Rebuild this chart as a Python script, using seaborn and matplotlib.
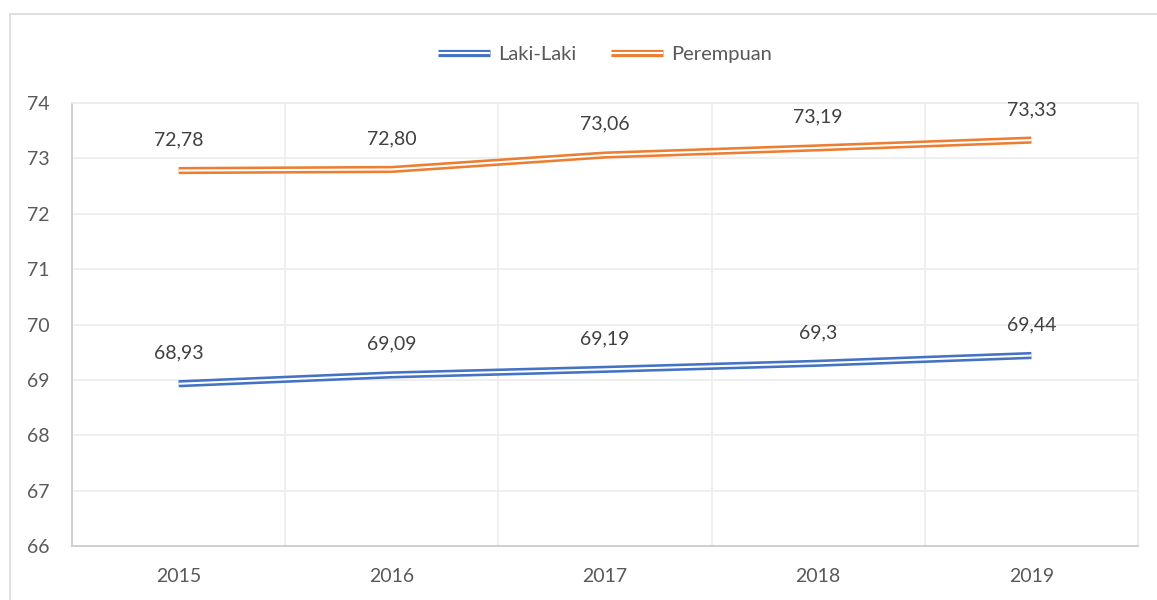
import numpy as np
import pandas as pd
import matplotlib
matplotlib.use("Agg")
import matplotlib.pyplot as plt
import matplotlib.patheffects as pe
import seaborn as sns

# data
years = ["2015", "2016", "2017", "2018", "2019"]
laki = [68.93, 69.09, 69.19, 69.30, 69.44]
perempuan = [72.78, 72.80, 73.06, 73.19, 73.33]
laki_labels = ["68,93", "69,09", "69,19", "69,3", "69,44"]
perempuan_labels = ["72,78", "72,80", "73,06", "73,19", "73,33"]
series_names = ["Laki-Laki", "Perempuan"]
colors = ["#4472c4", "#ed7d31"]

sns.set_theme(style="white")
plt.rcParams['font.family'] = ['Lato', 'DejaVu Sans']
TXT = "#595959"

df = pd.DataFrame({"year": years * 2,
                   "x": list(range(len(years))) * 2,
                   "value": laki + perempuan,
                   "series": [series_names[0]] * 5 + [series_names[1]] * 5})

fig = plt.figure(figsize=(11.57, 6.0), dpi=100)
ax = fig.add_axes([72 / 1157, 1 - 546 / 600, (1138 - 72) / 1157, (546 - 103) / 600])

# outer chart frame
fig.patches.append(plt.Rectangle((10 / 1157, -0.1), 1.2, 1 - 14 / 600 + 0.1,
                                 transform=fig.transFigure, fill=False,
                                 edgecolor="#d9d9d9", linewidth=1.2))

for name, col in zip(series_names, colors):
    sub = df[df["series"] == name]
    sns.lineplot(data=sub, x="x", y="value", ax=ax, color="white",
                 linewidth=1.5, label=name, zorder=3, solid_capstyle="butt")
    ax.lines[-1].set_path_effects([pe.Stroke(linewidth=5.2, foreground=col,
                                             capstyle="butt"),
                                   pe.Normal()])

for vals, labs in [(laki, laki_labels), (perempuan, perempuan_labels)]:
    for i, (v, s) in enumerate(zip(vals, labs)):
        ax.annotate(s, (i, v), xytext=(0, 16), textcoords="offset points",
                    ha="center", va="bottom", fontsize=14, color="#404040")

ax.set_xlim(-0.5, len(years) - 0.5)
ax.set_ylim(66, 74)
ax.set_xticks(range(len(years)))
ax.set_xticklabels(years)
ax.set_yticks(range(66, 75))
ax.set_xticks(np.arange(-0.5, len(years)), minor=True)
ax.grid(True, which="major", axis="y", color="#ececec", linewidth=1.2)
ax.grid(True, which="minor", axis="x", color="#ececec", linewidth=1.2)
ax.tick_params(axis="both", which="both", length=0, labelsize=14, colors=TXT)
ax.tick_params(axis="x", pad=16)
ax.tick_params(axis="y", pad=16)
ax.set_xlabel("")
ax.set_ylabel("")
for side in ["top", "right"]:
    ax.spines[side].set_color("#ececec")
    ax.spines[side].set_linewidth(1.2)
for side in ["left", "bottom"]:
    ax.spines[side].set_color("#cfcfcf")
    ax.spines[side].set_linewidth(1.4)

leg = ax.legend(loc="lower center", bbox_to_anchor=(0.5, 1.073), ncol=2,
                frameon=False, fontsize=14.5, handlelength=2.6,
                columnspacing=1.7, handletextpad=0.4, borderaxespad=0)
for t in leg.get_texts():
    t.set_color(TXT)

fig.savefig("out.png", dpi=100)
